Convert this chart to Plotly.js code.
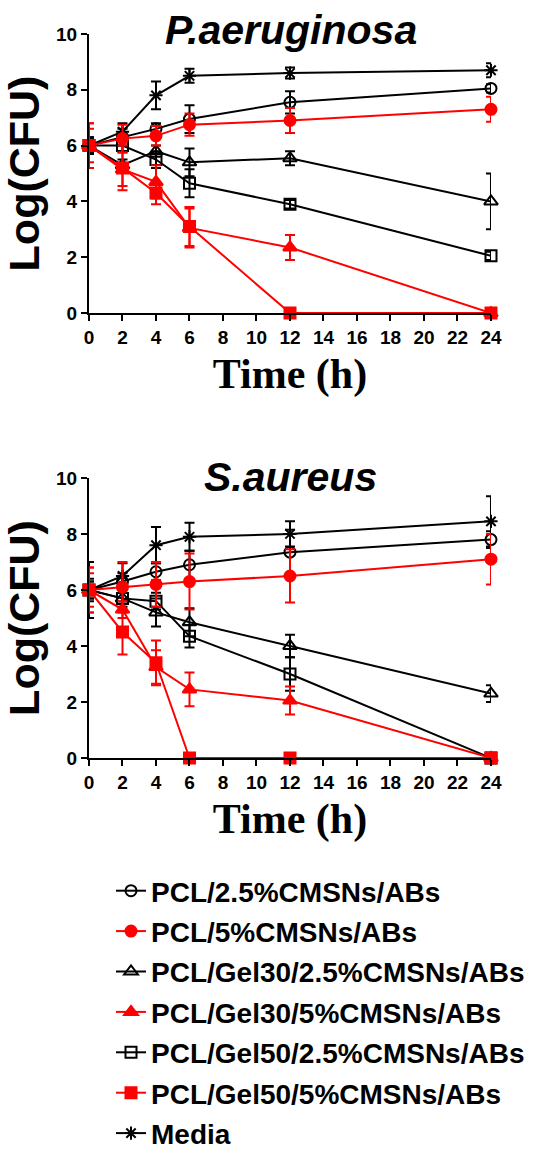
<!DOCTYPE html>
<html>
<head>
<meta charset="utf-8">
<script src="https://cdn.plot.ly/plotly-3.0.1.min.js"></script>
<style>html,body{margin:0;padding:0;background:#fff;}#chart{width:547px;height:1159px;}</style>
</head>
<body>
<div id="chart"></div>
<script>
// ---- data ----
const timeH = [0, 2, 4, 6, 12, 24];
const xTicks = [0, 2, 4, 6, 8, 10, 12, 14, 16, 18, 20, 22, 24];

const seriesNames = [
  "PCL/2.5%CMSNs/ABs",
  "PCL/5%CMSNs/ABs",
  "PCL/Gel30/2.5%CMSNs/ABs",
  "PCL/Gel30/5%CMSNs/ABs",
  "PCL/Gel50/2.5%CMSNs/ABs",
  "PCL/Gel50/5%CMSNs/ABs",
  "Media"
];

// P.aeruginosa  (Log CFU)
const paPcl25     = [6.0, 6.3, 6.6, 6.95, 7.55, 8.05];
const paPcl25Err  = [0.2, 0.3, 0.2, 0.5, 0.4, 0.15];
const paPcl5      = [6.0, 6.25, 6.35, 6.75, 6.9, 7.3];
const paPcl5Err   = [0.8, 0.5, 0.35, 0.4, 0.45, 0.45];
const paG30_25    = [6.0, 5.3, 5.8, 5.4, 5.55, 4.0];
const paG30_25Err = [0.3, 0.2, 0.2, 0.5, 0.25, 1.0];
const paG30_5     = [6.0, 5.15, 4.7, 3.05, 2.35, 0];
const paG30_5Err  = [0.6, 0.6, 0.6, 0.7, 0.45, 0];
const paG50_25    = [6.0, 6.0, 5.5, 4.65, 3.9, 2.05];
const paG50_25Err = [0.3, 0.2, 0.3, 0.5, 0.15, 0.15];
const paG50_5     = [6.0, 5.2, 4.3, 3.1, 0, 0];
const paG50_5Err  = [0.8, 0.8, 0.4, 0.7, 0, 0];
const paMedia     = [6.0, 6.5, 7.8, 8.5, 8.6, 8.7];
const paMediaErr  = [0.25, 0.3, 0.5, 0.25, 0.2, 0.25];

// S.aureus  (Log CFU)
const saPcl25     = [6.0, 6.3, 6.65, 6.9, 7.35, 7.8];
const saPcl25Err  = [0.4, 0.3, 0.3, 0.5, 0.8, 0.3];
const saPcl5      = [6.0, 6.1, 6.2, 6.3, 6.5, 7.1];
const saPcl5Err   = [0.8, 0.9, 0.8, 1.0, 0.95, 0.9];
const saG30_25    = [6.0, 5.7, 5.2, 4.85, 4.0, 2.3];
const saG30_25Err = [0.3, 0.3, 0.5, 0.5, 0.4, 0.3];
const saG30_5     = [6.0, 5.3, 3.25, 2.45, 2.05, 0];
const saG30_5Err  = [0.6, 0.3, 0.6, 0.6, 0.5, 0];
const saG50_25    = [6.0, 5.7, 5.6, 4.35, 3.0, 0];
const saG50_25Err = [0.3, 0.2, 0.3, 0.4, 0.6, 0];
const saG50_5     = [6.0, 4.5, 3.4, 0, 0, 0];
const saG50_5Err  = [0.8, 0.8, 0.8, 0, 0, 0];
const saMedia     = [6.0, 6.5, 7.6, 7.9, 8.0, 8.45];
const saMediaErr  = [1.0, 0.45, 0.65, 0.5, 0.45, 0.9];

// ---- styles ----
const RED = "#ff0000", BLACK = "#000000";
const styles = [
  {color: BLACK, symbol: "circle-open", size: 11},
  {color: RED, symbol: "circle", size: 11},
  {color: BLACK, symbol: "triangle-up-open", size: 12},
  {color: RED, symbol: "triangle-up", size: 12},
  {color: BLACK, symbol: "square-open", size: 11},
  {color: RED, symbol: "square", size: 11},
  {color: BLACK, symbol: "asterisk-open", size: 11}
];
const paVals = [paPcl25, paPcl5, paG30_25, paG30_5, paG50_25, paG50_5, paMedia];
const paErrs = [paPcl25Err, paPcl5Err, paG30_25Err, paG30_5Err, paG50_25Err, paG50_5Err, paMediaErr];
const saVals = [saPcl25, saPcl5, saG30_25, saG30_5, saG50_25, saG50_5, saMedia];
const saErrs = [saPcl25Err, saPcl5Err, saG30_25Err, saG30_5Err, saG50_25Err, saG50_5Err, saMediaErr];

// draw black series first, red on top
const drawOrder = [6, 0, 2, 4, 1, 3, 5];
const traces = [];
function addTrace(i, vals, errs, xa, ya, showLegend) {
  const s = styles[i];
  traces.push({
    type: "scatter", mode: "lines+markers",
    x: timeH, y: vals[i],
    xaxis: xa, yaxis: ya,
    name: seriesNames[i], legendgroup: "g" + i, legendrank: i + 1,
    showlegend: showLegend,
    cliponaxis: false,
    line: {color: s.color, width: 2},
    marker: {symbol: s.symbol, size: s.size, color: s.color,
             line: {color: s.color, width: 2}},
    error_y: {type: "data", array: errs[i], visible: true,
              color: s.color, thickness: 2, width: 5}
  });
}
drawOrder.forEach(i => addTrace(i, paVals, paErrs, "x", "y", true));
drawOrder.forEach(i => addTrace(i, saVals, saErrs, "x2", "y2", false));

const tickFont = {family: "Arial, 'Liberation Sans', sans-serif", size: 19, color: "#000", weight: "bold"};
const xTitle = {text: "Time (h)", font: {family: "'Times New Roman', 'Liberation Serif', serif", size: 42, color: "#000", weight: "bold"}, standoff: 12};
const yTitle = {text: "Log(CFU)", font: {family: "Arial, 'Liberation Sans', sans-serif", size: 43, color: "#000", weight: "bold"}, standoff: 5};

function xAxis(anchor) {
  return {domain: [0.1627, 0.8976], range: [0, 24], anchor: anchor,
    tickmode: "array", tickvals: xTicks, ticktext: xTicks.map(String),
    ticks: "outside", ticklen: 6, tickwidth: 2, tickcolor: "#000",
    showline: true, linewidth: 2, linecolor: "#000",
    showgrid: false, zeroline: false, tickfont: tickFont, automargin: false,
    title: xTitle};
}
function yAxis(anchor, dom) {
  return {domain: dom, range: [0, 10], anchor: anchor,
    tickmode: "linear", tick0: 0, dtick: 2,
    ticks: "outside", ticklen: 6, tickwidth: 2, tickcolor: "#000",
    showline: true, linewidth: 2, linecolor: "#000",
    showgrid: false, zeroline: false, tickfont: tickFont, automargin: false,
    title: yTitle};
}

const layout = {
  width: 547, height: 1159,
  margin: {l: 0, r: 0, t: 0, b: 0, autoexpand: false},
  paper_bgcolor: "#fff", plot_bgcolor: "rgba(0,0,0,0)",
  showlegend: true,
  xaxis: xAxis("y"),
  yaxis: yAxis("x", [0.7299, 0.9707]),
  xaxis2: xAxis("y2"),
  yaxis2: yAxis("x2", [0.346, 0.5876]),
  legend: {x: 111 / 547, xanchor: "left", y: 1 - 866 / 1159, yanchor: "top",
    orientation: "v", itemwidth: 30, bgcolor: "rgba(0,0,0,0)",
    font: {family: "Arial, 'Liberation Sans', sans-serif", size: 28, color: "#000", weight: "bold"},
    traceorder: "grouped", tracegroupgap: 1, itemclick: false},
  annotations: [
    {text: "P.aeruginosa", xref: "paper", yref: "paper", x: 291 / 547, y: 1 - 30 / 1159,
     xanchor: "center", yanchor: "middle", showarrow: false,
     font: {family: "Arial, 'Liberation Sans', sans-serif", size: 41, color: "#000", weight: "bold", style: "italic"}},
    {text: "S.aureus", xref: "paper", yref: "paper", x: 291 / 547, y: 1 - 477 / 1159,
     xanchor: "center", yanchor: "middle", showarrow: false,
     font: {family: "Arial, 'Liberation Sans', sans-serif", size: 41, color: "#000", weight: "bold", style: "italic"}}
  ]
};

Plotly.newPlot("chart", traces, layout, {displayModeBar: false, staticPlot: true});
</script>
</body>
</html>
